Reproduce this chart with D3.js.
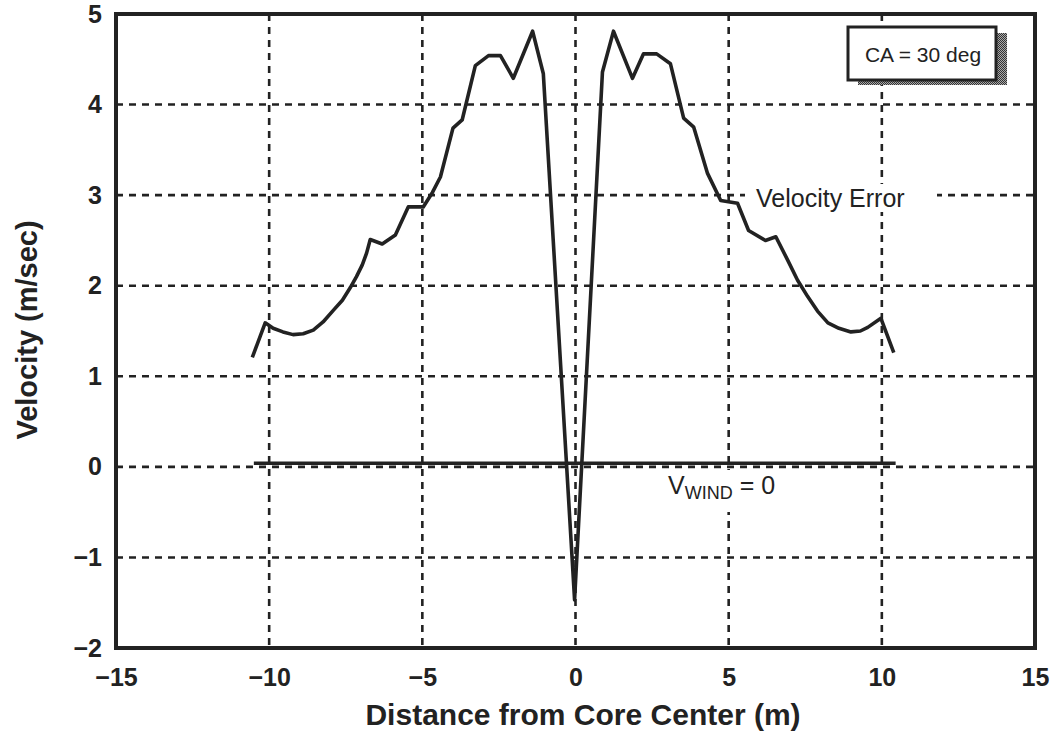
<!DOCTYPE html>
<meta charset="utf-8">
<head>
  <script src="https://d3js.org/d3.v7.min.js"></script>
  <style>
    body { margin: 0; background: #fff; }
    text { font-family: "Liberation Sans", Arial, Helvetica, sans-serif; fill: #222; }
  </style>
</head>
<body>
<svg></svg>
<script>
  // Data
  var errX = [-10.55, -10.13, -9.87, -9.55, -9.22, -8.89, -8.56, -8.24, -7.9, -7.61, -7.35, -7.15, -6.96, -6.82, -6.7,
              -6.31, -5.88, -5.46, -4.97, -4.67, -4.41, -4.0, -3.7, -3.27, -2.84, -2.45, -2.03, -1.4, -1.05,
              -0.03,
              0.88, 1.24, 1.86, 2.22, 2.65, 3.1, 3.53, 3.86, 4.31, 4.74, 5.29, 5.65, 6.2, 6.54,
              6.93, 7.25, 7.58, 7.9, 8.24, 8.6, 8.99, 9.3, 9.54, 9.97, 10.39];
  var errY = [1.21, 1.59, 1.53, 1.49, 1.46, 1.47, 1.51, 1.6, 1.73, 1.84, 1.98, 2.1, 2.23, 2.36, 2.51,
              2.46, 2.56, 2.87, 2.87, 3.03, 3.2, 3.74, 3.83, 4.43, 4.54, 4.54, 4.29, 4.81, 4.34,
              -1.47,
              4.36, 4.81, 4.29, 4.56, 4.56, 4.45, 3.85, 3.75, 3.24, 2.94, 2.91, 2.61, 2.5, 2.54,
              2.28, 2.06, 1.88, 1.72, 1.59, 1.53, 1.49, 1.5, 1.54, 1.64, 1.26];
  var windX = [-10.5, 10.45];
  var windY = [0.04, 0.04];
  var xTicks = [-15, -10, -5, 0, 5, 10, 15];
  var yTicks = [-2, -1, 0, 1, 2, 3, 4, 5];
  var xGrid = [-10, -5, 0, 5, 10];
  var yGrid = [-1, 0, 1, 2, 3, 4];

  var width = 1053, height = 739;
  var plotL = 116, plotR = 1035, plotT = 14, plotB = 648;
  var ink = "#222";

  var svg = d3.select("svg").attr("width", width).attr("height", height);

  var x = d3.scaleLinear().domain([-15, 15]).range([plotL, plotR]);
  var y = d3.scaleLinear().domain([-2, 5]).range([plotB, plotT]);

  // stipple pattern for the legend shadow
  var pat = svg.append("defs").append("pattern")
    .attr("id", "stipple").attr("width", 2).attr("height", 2)
    .attr("patternUnits", "userSpaceOnUse");
  pat.append("rect").attr("width", 2).attr("height", 2).attr("fill", "#aaa");
  pat.append("rect").attr("width", 1).attr("height", 1).attr("fill", "#333");
  pat.append("rect").attr("x", 1).attr("y", 1).attr("width", 1).attr("height", 1).attr("fill", "#333");

  // dashed grid
  svg.append("g").selectAll("line").data(xGrid).enter().append("line")
    .attr("x1", function(d) { return x(d); }).attr("x2", function(d) { return x(d); })
    .attr("y1", plotT).attr("y2", plotB)
    .attr("stroke", ink).attr("stroke-width", 2.6).attr("stroke-dasharray", "7,6");
  svg.append("g").selectAll("line").data(yGrid).enter().append("line")
    .attr("y1", function(d) { return y(d); }).attr("y2", function(d) { return y(d); })
    .attr("x1", plotL).attr("x2", plotR)
    .attr("stroke", ink).attr("stroke-width", 2.6).attr("stroke-dasharray", "7,6");

  // axes (labels only)
  var xAxis = svg.append("g").attr("transform", "translate(0," + plotB + ")")
    .call(d3.axisBottom(x).tickValues(xTicks).tickFormat(d3.format("d")).tickSize(0).tickPadding(20));
  var yAxis = svg.append("g").attr("transform", "translate(" + plotL + ",0)")
    .call(d3.axisLeft(y).tickValues(yTicks).tickFormat(d3.format("d")).tickSize(0).tickPadding(14));
  [xAxis, yAxis].forEach(function(a) {
    a.select(".domain").remove();
    a.selectAll("text").attr("font-size", 25).attr("font-weight", "bold")
      .attr("fill", ink).style("font-family", '"Liberation Sans", Arial, sans-serif');
  });

  // frame
  svg.append("rect").attr("x", plotL).attr("y", plotT)
    .attr("width", plotR - plotL).attr("height", plotB - plotT)
    .attr("fill", "none").attr("stroke", ink).attr("stroke-width", 4);

  var line = d3.line()
    .x(function(d) { return x(d[0]); })
    .y(function(d) { return y(d[1]); });

  // white patches behind the in-plot labels (they cut the grid)
  svg.append("rect").attr("x", 745).attr("y", 184).attr("width", 192).attr("height", 28).attr("fill", "#fff");
  svg.append("rect").attr("x", 662).attr("y", 470).attr("width", 128).attr("height", 42).attr("fill", "#fff");

  svg.append("path").datum(d3.zip(windX, windY)).attr("d", line)
    .attr("fill", "none").attr("stroke", ink).attr("stroke-width", 3.6);

  svg.append("path").datum(d3.zip(errX, errY)).attr("d", line)
    .attr("fill", "none").attr("stroke", ink).attr("stroke-width", 3.6)
    .attr("stroke-linejoin", "round");

  // labels
  svg.append("text").attr("x", 756).attr("y", 207)
    .attr("font-size", 25).text("Velocity Error");

  var vw = svg.append("text").attr("x", 668).attr("y", 494).attr("font-size", 25);
  vw.append("tspan").text("V");
  vw.append("tspan").attr("font-size", 18).attr("dy", 5).text("WIND");
  vw.append("tspan").attr("dy", -5).text(" = 0");

  // legend box with shadow
  svg.append("rect").attr("x", 858).attr("y", 33).attr("width", 149).attr("height", 52)
    .attr("fill", "url(#stipple)");
  svg.append("rect").attr("x", 848).attr("y", 27).attr("width", 148).attr("height", 53)
    .attr("fill", "#fff").attr("stroke", ink).attr("stroke-width", 3);
  svg.append("text").attr("x", 923).attr("y", 62).attr("text-anchor", "middle")
    .attr("font-size", 21).text("CA = 30 deg");

  // axis titles
  svg.append("text").attr("x", 583).attr("y", 725)
    .attr("text-anchor", "middle").attr("font-size", 30).attr("font-weight", "bold")
    .text("Distance from Core Center (m)");
  svg.append("text").attr("transform", "translate(37,330)rotate(-90)")
    .attr("text-anchor", "middle").attr("font-size", 29).attr("font-weight", "bold")
    .text("Velocity (m/sec)");
</script>
</body>
</html>
